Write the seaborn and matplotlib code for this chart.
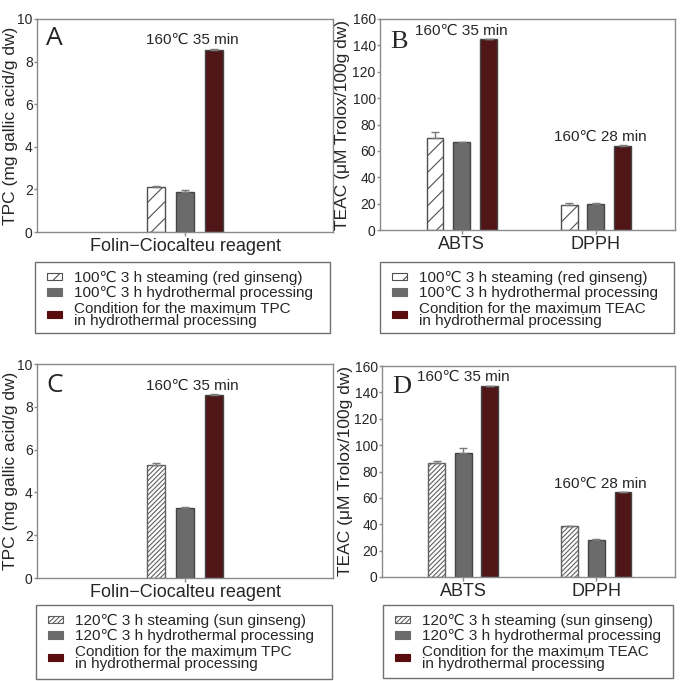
import matplotlib
matplotlib.use('Agg')
import matplotlib.pyplot as plt
from matplotlib.patches import Patch, Rectangle
import seaborn as sns
import pandas as pd

# treatment order inside each group
treatments = ['steam', 'hydro', 'max']
colors = {'steam': 'white', 'hydro': '#6b6b6b', 'max': '#5a0b0d'}

tpc_cats = ['Folin−Ciocalteu reagent']
teac_cats = ['ABTS', 'DPPH']

# values per treatment (rows) and category (columns)
a_values = [[2.1], [1.9], [8.55]]
a_errs = [[0.08], [0.05], [0.06]]
b_values = [[70.0, 18.8], [66.5, 19.8], [144.5, 63.8]]
b_errs = [[4.2, 1.6], [0.6, 0.6], [0.4, 0.4]]
c_values = [[5.28], [3.27], [8.55]]
c_errs = [[0.1], [0.03], [0.05]]
d_values = [[86.8, 38.3], [93.8, 28.0], [144.8, 64.1]]
d_errs = [[0.8, 0.4], [3.8, 0.5], [0.3, 0.3]]

legend_top = ['100℃ 3 h steaming (red ginseng)', '100℃ 3 h hydrothermal processing']
legend_bottom = ['120℃ 3 h steaming (sun ginseng)', '120℃ 3 h hydrothermal processing']
max_tpc = 'Condition for the maximum TPC\nin hydrothermal processing'
max_teac = 'Condition for the maximum TEAC\nin hydrothermal processing'

sns.set_style('ticks')
plt.rcParams['font.family'] = ['Liberation Sans', 'DejaVu Sans']
plt.rcParams['hatch.linewidth'] = 0.8

SPINE = '#8a8a8a'
EDGE = '#454545'
W, H = 680, 681

fig = plt.figure(figsize=(6.8, 6.81), dpi=100)


def px_rect(x0, y0, x1, y1):
    # pixel box (top-left origin) -> figure fraction [left, bottom, width, height]
    return [x0 / W, 1 - y1 / H, (x1 - x0) / W, (y1 - y0) / H]


def panel(box, cats, values, errs, hatch, hatch_edge, gap, xlim, ylim, yticks,
          ylabel, label_x, letter, letter_font, letter_xy, notes):
    ax = fig.add_axes(px_rect(*box))
    rows = []
    for t, vals in zip(treatments, values):
        for c, v in zip(cats, vals):
            rows.append({'cat': c, 'trt': t, 'val': v})
    df = pd.DataFrame(rows)
    sns.barplot(data=df, x='cat', y='val', hue='trt', order=cats, hue_order=treatments,
                palette=colors, width=0.6, gap=gap, edgecolor=EDGE, linewidth=1,
                errorbar=None, legend=False, ax=ax)
    bars = list(ax.containers)
    for cont, e in zip(bars, errs):
        for bar, err in zip(cont, e):
            x = bar.get_x() + bar.get_width() / 2
            ax.errorbar(x, bar.get_height(), yerr=[[0], [err]], fmt='none',
                        ecolor='#7a7a7a', elinewidth=1, capsize=3, capthick=1, zorder=3)
    for bar in bars[0]:
        bar.set_hatch(hatch)
        bar.set_edgecolor(hatch_edge)
    ax.set_xlim(*xlim)
    ax.set_ylim(*ylim)
    ax.set_yticks(yticks)
    ax.set_xlabel('')
    ax.set_ylabel(ylabel, fontsize=12.5)
    ax.yaxis.set_label_coords(label_x, 0.5)
    ax.tick_params(axis='y', labelsize=10, length=2.5, width=1, color=SPINE, pad=0.6)
    ax.tick_params(axis='x', labelsize=13, length=3, width=1, color=SPINE, pad=1)
    for s in ax.spines.values():
        s.set_color(SPINE)
        s.set_linewidth(1)
    ax.text(letter_xy[0], letter_xy[1], letter, transform=ax.transAxes,
            fontsize=19, family=letter_font, ha='left', va='center')
    # annotate the best condition above the dark red bar
    for text, x, y in notes:
        ax.text(x, y, text, fontsize=11, ha='center', va='bottom')
    return ax


def legend(box, labels, hatch, hatch_edge):
    x0, y0, x1, y1 = box
    fig.patches.append(Rectangle((x0 / W, 1 - y1 / H), (x1 - x0) / W, (y1 - y0) / H,
                                 transform=fig.transFigure, facecolor='white',
                                 edgecolor='#707070', linewidth=1, zorder=0))
    handles = [Patch(facecolor='white', edgecolor=hatch_edge, hatch=hatch, linewidth=0.8, label=labels[0]),
               Patch(facecolor=colors['hydro'], edgecolor='#6b6b6b', linewidth=0.8, label=labels[1]),
               Patch(facecolor=colors['max'], edgecolor=colors['max'], linewidth=0.8, label=labels[2])]
    leg = fig.legend(handles=handles, loc='upper left',
                     bbox_to_anchor=((x0 + 12) / W, 1 - (y0 + 9) / H),
                     bbox_transform=fig.transFigure, fontsize=11, frameon=False,
                     handlelength=1.0, handleheight=0.35, handletextpad=0.75,
                     labelspacing=0.08, borderpad=0, borderaxespad=0)
    for t in leg.get_texts():
        t.set_linespacing(0.85)
    return leg


panel((37, 19, 333, 232), tpc_cats, a_values, a_errs, '//', '#505050', 0.41,
      (-1.02, 1.02), (0, 10), range(0, 11, 2), 'TPC (mg gallic acid/g dw)', -0.064,
      'A', ['Open Sans', 'DejaVu Sans'], (0.03, 0.91),
      [('160℃ 35 min', 0.05, a_values[2][0] + 0.12)])
panel((380, 19, 675, 230), teac_cats, b_values, b_errs, '//', '#505050', 0.37,
      (-0.61, 1.59), (0, 160), range(0, 161, 20), 'TEAC (μM Trolox/100g dw)', -0.1,
      'B', ['Liberation Serif', 'DejaVu Serif'], (0.035, 0.89),
      [('160℃ 35 min', 0.0, b_values[2][0] + 1.5), ('160℃ 28 min', 1.03, b_values[2][1] + 1.5)])
panel((37, 364, 333, 578), tpc_cats, c_values, c_errs, '///////', '#606060', 0.41,
      (-1.02, 1.02), (0, 10), range(0, 11, 2), 'TPC (mg gallic acid/g dw)', -0.064,
      'C', ['Open Sans', 'DejaVu Sans'], (0.03, 0.9),
      [('160℃ 35 min', 0.05, c_values[2][0] + 0.12)])
panel((382, 366, 675, 577), teac_cats, d_values, d_errs, '///////', '#606060', 0.37,
      (-0.61, 1.59), (0, 160), range(0, 161, 20), 'TEAC (μM Trolox/100g dw)', -0.1,
      'D', ['Liberation Serif', 'DejaVu Serif'], (0.035, 0.9),
      [('160℃ 35 min', 0.0, d_values[2][0] + 1.5), ('160℃ 28 min', 1.03, d_values[2][1] + 1.5)])

legend((35, 262, 330, 333), legend_top + [max_tpc], '//', '#505050')
legend((380, 262, 674, 333), legend_top + [max_teac], '//', '#505050')
legend((36, 605, 332, 679), legend_bottom + [max_tpc], '///////', '#606060')
legend((383, 605, 673, 678), legend_bottom + [max_teac], '///////', '#606060')

fig.savefig('out.png', dpi=100)
